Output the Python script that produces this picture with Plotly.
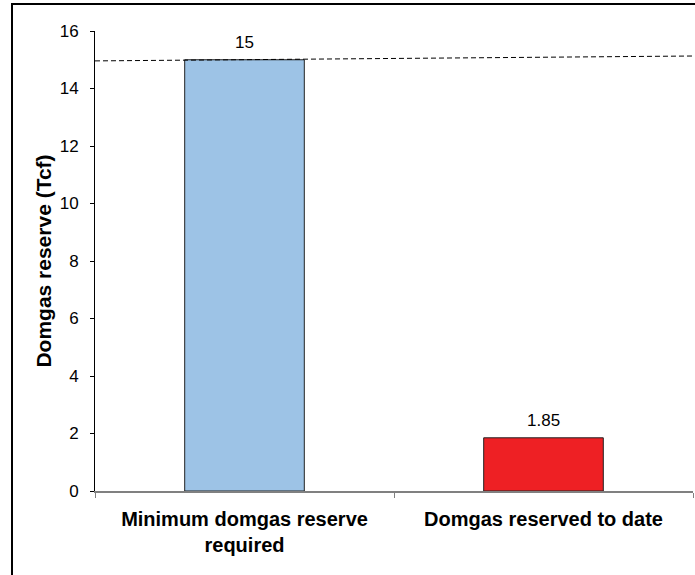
import plotly.graph_objects as go

categories = ["Minimum domgas reserve<br>required", "Domgas reserved to date"]
values = [15, 1.85]
value_labels = ["15", "1.85"]
bar_colors = ["#9DC3E6", "#EE2024"]
target_line_y = [14.96, 15.13]
y_ticks = [0, 2, 4, 6, 8, 10, 12, 14, 16]

W, H = 695, 575
ml, mr, mt, mb = 95, 2, 31, 84
pw, ph = W - ml - mr, H - mt - mb
FONT = "Liberation Sans, Arial"

def px_x(p):
    return (p - ml) / pw

def px_y(p):
    return (H - mb - p) / ph

fig = go.Figure()
fig.add_trace(go.Bar(
    x=categories, y=values,
    marker=dict(color=bar_colors, line=dict(color="#222222", width=1)),
    width=0.4,
))

for c, v, t in zip(categories, values, value_labels):
    fig.add_annotation(x=c, y=v, text=t, showarrow=False, yanchor="middle",
                       yshift=17, font=dict(family=FONT, size=17, color="#000000"))

fig.add_shape(type="line", xref="paper", yref="y",
              x0=0, x1=1, y0=target_line_y[0], y1=target_line_y[1],
              line=dict(color="#000000", width=1, dash="5px,3px"))

fig.add_shape(type="rect", xref="paper", yref="paper",
              x0=px_x(12), x1=px_x(760), y0=px_y(640), y1=px_y(4),
              line=dict(color="#000000", width=2), fillcolor="rgba(0,0,0,0)")

fig.update_layout(
    width=W, height=H,
    margin=dict(l=ml, r=mr, t=mt, b=mb, pad=0),
    paper_bgcolor="white", plot_bgcolor="white",
    showlegend=False,
    font=dict(family=FONT, color="#000000"),
    xaxis=dict(
        type="category", tickson="boundaries", ticks="outside", ticklen=5,
        tickcolor="#808080", showline=True, linecolor="#808080", linewidth=1.5,
        showgrid=False, zeroline=False,
        tickfont=dict(size=20, family=FONT, weight="bold"),
        ticklabelstandoff=9,
        range=[-0.5, 1.5],
    ),
    yaxis=dict(
        range=[0, 16], tickvals=y_ticks, ticks="outside", ticklen=4,
        tickcolor="#000000", showline=True, linecolor="#000000", linewidth=1,
        showgrid=False, zeroline=False,
        tickfont=dict(size=17, family=FONT),
        ticklabelstandoff=8,
        title=dict(text="Domgas reserve (Tcf)", standoff=2,
                   font=dict(size=21, family=FONT, weight="bold")),
    ),
)

fig.write_html("out.html")
